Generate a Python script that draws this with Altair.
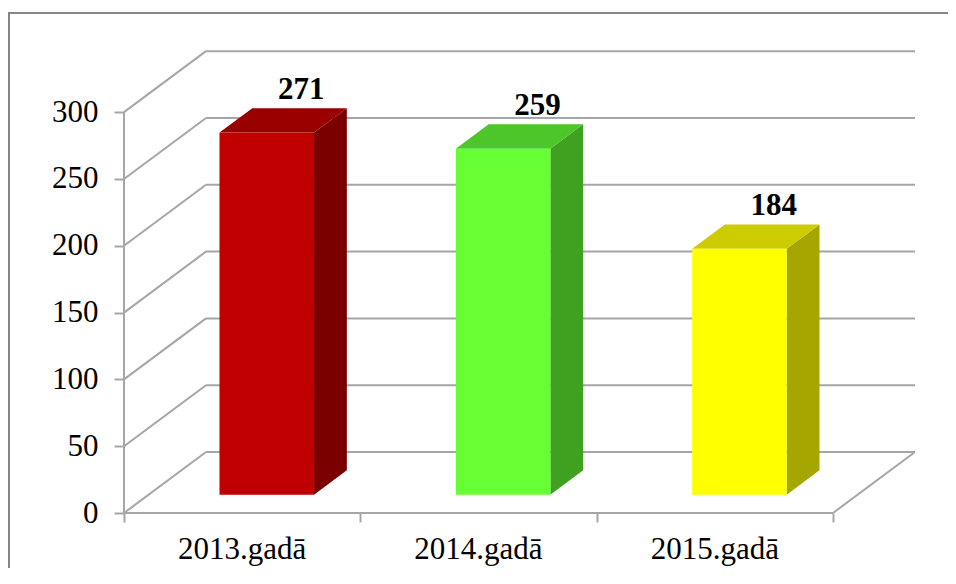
import altair as alt
import pandas as pd

# ---- data ----
categories = ["2013.gadā", "2014.gadā", "2015.gadā"]
values = [271, 259, 184]
y_ticks = [0, 50, 100, 150, 200, 250, 300]

# ---- styles ----
front_colors = ["#C00000", "#66FF33", "#FFFF00"]
top_colors = ["#990000", "#4CC629", "#CCCC00"]
side_colors = ["#7A0000", "#40A020", "#A6A600"]
GRID = "#A6A6A6"
FRAME = "#868686"
FONT = "Liberation Serif"

N = len(categories)
DX = 0.347     # depth of the 3-D box, in category units
DY = 45.65     # depth of the 3-D box, in value units
D0, D1 = 0.3, 0.7   # depth span of each bar
BL, BR = 0.3, 0.7   # horizontal span of each bar within its category
YMAX = 354

bars = pd.DataFrame({"idx": list(range(N)), "cat": categories, "value": values})
grid = pd.DataFrame({"v": y_ticks})
edges = pd.DataFrame({
    "xa": [0, N, 0],
    "xb": [N, N + DX, 0],
    "ya": [0, 0, 0],
    "yb": [0, DY, max(y_ticks)],
})
one = pd.DataFrame({"k": [0]})

XS = alt.Scale(domain=[0, N + DX], nice=False, zero=False)
YS = alt.Scale(domain=[0, YMAX], nice=False, zero=False)
XA = alt.Axis(values=list(range(N + 1)), labels=False, domain=False, grid=False,
              ticks=True, tickSize=9, tickColor=GRID, tickWidth=2, title=None)
YA = alt.Axis(values=y_ticks, domain=False, grid=False, ticks=True, tickSize=10,
              tickColor=GRID, tickWidth=2, labelFont=FONT, labelFontSize=31,
              labelColor="black", labelPadding=16, title=None)


def X(f):
    return alt.X(f, type="quantitative", scale=XS, axis=XA)


def Y(f):
    return alt.Y(f, type="quantitative", scale=YS, axis=YA)


back = alt.Chart(grid).transform_calculate(
    xa=f"{DX}", xb=f"{N + DX}", yb=f"datum.v + {DY}"
).mark_rule(color=GRID, strokeWidth=2).encode(x=X("xa"), x2="xb:Q", y=Y("yb"))

left = alt.Chart(grid).transform_calculate(
    xa="0", xb=f"{DX}", yb=f"datum.v + {DY}"
).mark_rule(color=GRID, strokeWidth=2).encode(x=X("xa"), x2="xb:Q", y=Y("v"), y2="yb:Q")

edge = alt.Chart(edges).mark_rule(color=GRID, strokeWidth=2).encode(
    x=X("xa"), x2="xb:Q", y=Y("ya"), y2="yb:Q")


def depth(ch):
    return ch.transform_calculate(da=f"{D0}", db=f"{D1}").transform_fold(
        ["da", "db"], as_=["dk", "d"]
    ).transform_calculate(
        xl=f"datum.idx + {BL} + datum.d * {DX}",
        xr=f"datum.idx + {BR} + datum.d * {DX}",
        yb=f"datum.d * {DY}",
        yt=f"datum.value + datum.d * {DY}",
    )


side = depth(alt.Chart(bars)).mark_area(orient="vertical").encode(
    x=X("xr"), y=Y("yb"), y2="yt:Q",
    color=alt.Color("cat:N", scale=alt.Scale(domain=categories, range=side_colors), legend=None),
)

top = depth(alt.Chart(bars)).mark_area(orient="horizontal").encode(
    y=Y("yt"), x=X("xl"), x2="xr:Q",
    color=alt.Color("cat:N", scale=alt.Scale(domain=categories, range=top_colors), legend=None),
)

front = alt.Chart(bars).transform_calculate(
    xl=f"datum.idx + {BL} + {D0 * DX}",
    xr=f"datum.idx + {BR} + {D0 * DX}",
    yb=f"{D0 * DY}",
    yt=f"datum.value + {D0 * DY}",
).mark_rect().encode(
    x=X("xl"), x2="xr:Q", y=Y("yb"), y2="yt:Q",
    color=alt.Color("cat:N", scale=alt.Scale(domain=categories, range=front_colors), legend=None),
)

labels = alt.Chart(bars).transform_calculate(
    xc=f"datum.idx + 0.5 + {0.72 * DX}",
    yc=f"datum.value + {0.72 * DY}",
).mark_text(font=FONT, fontSize=31, fontWeight="bold", color="black",
            baseline="alphabetic", dy=-8).encode(
    x=X("xc"), y=Y("yc"), text="value:Q")

cats = alt.Chart(bars).transform_calculate(
    xc="datum.idx + 0.5", yc="0"
).mark_text(font=FONT, fontSize=31, color="black", baseline="alphabetic", dy=46).encode(
    x=X("xc"), y=Y("yc"), text="cat:N")

frame_left = alt.Chart(one).mark_rule(color=FRAME, strokeWidth=2).encode(
    x=alt.value(-115), y=alt.value(-27), y2=alt.value(528))
frame_top = alt.Chart(one).mark_rule(color=FRAME, strokeWidth=2).encode(
    x=alt.value(-116), x2=alt.value(824), y=alt.value(-27))

chart = alt.layer(
    back, left, edge, side, top, front, labels, cats, frame_left, frame_top
).resolve_scale(color="independent").properties(
    width=791, height=473,
    autosize=alt.AutoSizeParams(type="none"),
    padding={"left": 116, "top": 32, "right": 33, "bottom": 55},
    background="white",
).configure_view(stroke=None)

chart.save("out.html", embed_options={"renderer": "svg", "actions": False})
